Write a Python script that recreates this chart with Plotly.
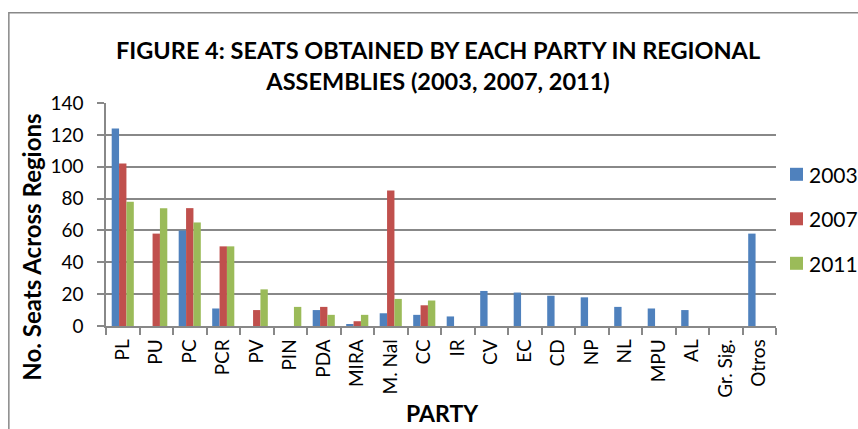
import plotly.graph_objects as go

parties = ["PL", "PU", "PC", "PCR", "PV", "PIN", "PDA", "MIRA", "M. Nal", "CC",
           "IR", "CV", "EC", "CD", "NP", "NL", "MPU", "AL", "Gr. Sig.", "Otros"]
seats_2003 = [124, 0, 60, 11, 0, 0, 10, 1, 8, 7, 6, 22, 21, 19, 18, 12, 11, 10, 0, 58]
seats_2007 = [102, 58, 74, 50, 10, 0, 12, 3, 85, 13, 0, 0, 0, 0, 0, 0, 0, 0, 0, 0]
seats_2011 = [78, 74, 65, 50, 23, 12, 7, 7, 17, 16, 0, 0, 0, 0, 0, 0, 0, 0, 0, 0]
years = ["2003", "2007", "2011"]
colors = ["#4F81BD", "#C0504D", "#9BBB59"]

FONT = "Lato"
W, H = 858, 429
L, R, T, B = 105.7, 776, 102.7, 325.7
PW, PH = R - L, B - T


def px(x):
    return (x - L) / PW


def py(y):
    return (B - y) / PH


fig = go.Figure()
for year, vals, col in zip(years, [seats_2003, seats_2007, seats_2011], colors):
    fig.add_trace(go.Bar(
        x=parties, y=vals, name=year,
        marker=dict(color=col, line=dict(width=0)),
    ))

fig.update_layout(
    width=W, height=H,
    margin=dict(l=L, r=W - R, t=T, b=H - B, pad=0),
    paper_bgcolor="white", plot_bgcolor="white",
    barmode="group", bargap=0.34, bargroupgap=0,
    font=dict(family=FONT, color="black"),
    showlegend=False,
    xaxis=dict(
        type="category", range=[-0.5, len(parties) - 0.5],
        tickangle=-90, tickfont=dict(size=19, family=FONT),
        ticks="outside", ticklen=7, tickcolor="#888888", tickwidth=1.5,
        tickson="boundaries", showline=True, linecolor="#888888", linewidth=1.5,
        showgrid=False, ticklabelstandoff=4, automargin=False,
    ),
    yaxis=dict(
        range=[0, 140], dtick=20, tickfont=dict(size=19, family=FONT),
        ticks="outside", ticklen=7, tickcolor="#888888", tickwidth=1.5,
        showline=True, linecolor="#888888", linewidth=1.5,
        showgrid=True, gridcolor="#888888", gridwidth=1.5,
        zeroline=False, ticklabelstandoff=10, automargin=False,
    ),
)

# Legend drawn as swatches and labels to the right of the plot
legend_y = [174, 218.5, 263]
for year, col, ly in zip(years, colors, legend_y):
    fig.add_shape(
        type="rect", xref="paper", yref="paper",
        x0=px(790), x1=px(803), y0=py(ly + 6.5), y1=py(ly - 6.5),
        fillcolor=col, line=dict(width=0),
    )
    fig.add_annotation(
        text=year, xref="paper", yref="paper", x=px(807), y=py(ly),
        xanchor="left", yanchor="middle", showarrow=False,
        font=dict(size=21, family=FONT, color="black"),
    )

# Title and axis titles
fig.add_annotation(
    text="<b>FIGURE 4: SEATS OBTAINED BY EACH PARTY IN REGIONAL<br>ASSEMBLIES (2003, 2007, 2011)</b>",
    xref="paper", yref="paper", x=px(438), y=py(65),
    xanchor="center", yanchor="middle", showarrow=False,
    font=dict(size=23.5, family=FONT, color="black"), align="center",
)
fig.add_annotation(
    text="<b>No. Seats Across Regions</b>", textangle=-90,
    xref="paper", yref="paper", x=px(31), y=py(247),
    xanchor="center", yanchor="middle", showarrow=False,
    font=dict(size=24, family=FONT, color="black"),
)
fig.add_annotation(
    text="<b>PARTY</b>",
    xref="paper", yref="paper", x=px(442), y=py(413),
    xanchor="center", yanchor="middle", showarrow=False,
    font=dict(size=23, family=FONT, color="black"),
)

# Outer chart frame
fig.add_shape(
    type="rect", xref="paper", yref="paper",
    x0=px(8.5), x1=px(870), y0=py(440), y1=py(12.5),
    line=dict(color="#888888", width=1.5), layer="below",
)

fig.write_html("out.html")
